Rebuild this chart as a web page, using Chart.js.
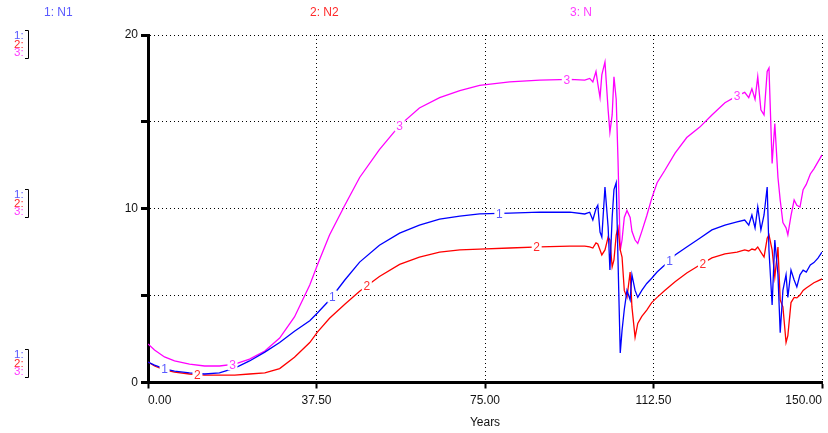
<!DOCTYPE html>
<html>
<head>
<meta charset="utf-8">
<script src="https://cdn.jsdelivr.net/npm/chart.js@4"></script>
<style>
  html, body { margin: 0; padding: 0; background: #fff; }
  #wrap { width: 828px; height: 433px; }
</style>
</head>
<body>
<div id="wrap"><canvas id="grafico" width="828" height="433"></canvas></div>
<script>
// tiempo (años) y series
const years = [0,1.45,3.67,5.9,9.24,12.6,15.9,19.3,22.6,26.0,29.3,32.6,36.0,37.7,40.4,43.8,47.1,51.5,56.0,60.4,64.9,69.4,73.8,80.5,87.2,93.9,97.2,
  98.3,99.0,99.7,100.1,100.6,101.0,101.7,102.4,102.8,103.3,103.7,104.2,104.6,105.1,105.5,106.0,106.6,107.3,107.7,108.4,109.0,109.9,111.0,112.1,113.3,
  115.0,117.3,119.9,122.8,125.5,128.4,131.1,132.8,
  133.7,134.4,135.1,135.7,136.4,137.1,137.8,138.2,138.9,139.5,140.2,140.7,141.3,142.0,142.4,143.1,143.8,144.4,145.1,145.8,146.5,147.4,148.2,149.1,150];

const n1 = [1.18,1.0,0.78,0.66,0.55,0.49,0.55,0.83,1.24,1.75,2.3,2.95,3.55,4.0,4.75,5.9,6.93,7.9,8.6,9.06,9.4,9.58,9.7,9.75,9.8,9.8,9.7,
  9.8,9.35,10.0,10.2,8.66,8.37,11.25,8.95,6.47,9.5,11.1,11.5,7.05,1.7,3.0,4.2,5.3,4.75,6.2,5.3,4.9,5.3,5.7,6.0,6.36,
  6.76,7.34,7.8,8.3,8.78,9.06,9.24,9.35,
  9.06,9.64,8.9,10.1,8.78,9.64,11.25,7.6,4.46,8.2,6.2,2.86,5.3,6.2,4.9,6.47,5.9,5.5,6.2,6.47,6.36,6.76,6.9,7.16,7.5];

const n2 = [1.18,0.95,0.72,0.6,0.49,0.43,0.43,0.43,0.49,0.55,0.8,1.45,2.3,2.9,3.7,4.5,5.25,6.1,6.8,7.22,7.5,7.63,7.68,7.74,7.8,7.85,7.85,
  7.8,7.74,8.03,7.97,7.63,7.34,7.63,8.37,8.2,6.65,7.05,8.49,8.9,7.63,7.22,5.3,4.9,6.36,4.35,2.6,3.4,3.8,4.17,4.6,4.9,
  5.3,5.8,6.3,6.76,7.17,7.4,7.5,7.63,
  7.57,7.68,7.63,7.8,7.5,7.22,8.3,8.5,7.63,6.07,7.8,4.75,4.35,2.3,2.7,4.6,4.9,4.87,5.03,5.3,5.44,5.6,5.74,5.85,5.96];

const n = [2.22,1.87,1.47,1.24,1.06,0.95,0.95,1.06,1.35,1.81,2.56,3.77,5.61,6.76,8.49,10.2,11.8,13.4,14.8,15.8,16.4,16.8,17.1,17.3,17.4,17.45,17.4,
  17.5,17.3,17.9,17.2,16.4,17.7,18.45,15.7,14.4,15.4,17.6,16.3,12.8,7.6,8.2,9.5,9.9,9.5,8.7,8.2,8.0,8.7,9.6,10.6,11.5,
  12.2,13.2,14.1,14.7,15.4,16.1,16.5,16.7,
  16.4,16.9,16.3,17.6,15.7,15.4,17.9,18.1,12.6,14.9,11.8,10.5,9.2,8.9,8.5,9.6,10.5,10.2,10.1,11.1,11.4,12.0,12.3,12.7,13.1];

const seriesNames = ['N1', 'N2', 'N'];
const xTicks = [0, 37.5, 75, 112.5, 150];
// años donde van los números sobre cada curva
const marks1 = [3.7, 41.0, 78.2, 116.1];
const marks2 = [11.0, 48.7, 86.5, 123.5];
const marks3 = [18.8, 56.0, 93.2, 131.1];

const FONT = "'Liberation Sans', Arial, sans-serif";
const colores = ['#0000ff', '#ff0000', '#ff00ff'];
const coloresTexto = ['#5a5aff', '#ff2a2a', '#ff3cff'];

const toPts = (arr) => arr.map((v, i) => ({ x: years[i], y: v }));

const interp = (arr, x) => {
    for (let i = 1; i < years.length; i++) {
        if (x <= years[i]) {
            const t = (x - years[i - 1]) / (years[i] - years[i - 1]);
            return arr[i - 1] + t * (arr[i] - arr[i - 1]);
        }
    }
    return arr[arr.length - 1];
};

const decoracion = {
    id: 'decoracion',
    afterDatasetsDraw(chart) {
        const { ctx, scales: { x, y } } = chart;
        const grupos = [[n1, marks1, '1'], [n2, marks2, '2'], [n, marks3, '3']];
        ctx.save();
        ctx.font = '12px ' + FONT;
        ctx.textAlign = 'center';
        ctx.textBaseline = 'middle';
        grupos.forEach(([serie, marcas, txt], k) => {
            marcas.forEach(m => {
                const px = x.getPixelForValue(m);
                const py = y.getPixelForValue(interp(serie, m));
                ctx.fillStyle = '#fff';
                ctx.fillRect(px - 5, py - 6, 10, 12);
                ctx.fillStyle = coloresTexto[k];
                ctx.fillText(txt, px, py + 1);
            });
        });
        ctx.restore();
    },
    afterDraw(chart) {
        const { ctx } = chart;
        ctx.save();
        ctx.font = '12px ' + FONT;
        ctx.textBaseline = 'middle';
        // leyenda de arriba
        const leyenda = [[44, '1: N1'], [310, '2: N2'], [570, '3: N']];
        leyenda.forEach(([lx, t], k) => {
            ctx.fillStyle = coloresTexto[k];
            ctx.fillText(t, lx, 13);
        });
        // escalas a la izquierda
        ctx.font = '11.5px ' + FONT;
        const tops = [36, 195, 355];
        tops.forEach(t0 => {
            ['1:', '2:', '3:'].forEach((t, k) => {
                ctx.fillStyle = coloresTexto[k];
                ctx.fillText(t, 14, t0 + k * 8.5);
            });
            ctx.strokeStyle = '#000';
            ctx.lineWidth = 1;
            ctx.beginPath();
            ctx.moveTo(25, t0 - 5.5);
            ctx.lineTo(28.5, t0 - 5.5);
            ctx.lineTo(28.5, t0 + 22.5);
            ctx.lineTo(25, t0 + 22.5);
            ctx.stroke();
        });
        ctx.restore();
    }
};

const ctx = document.getElementById('grafico');

new Chart(ctx, {
    type: 'line',
    data: {
        datasets: [n1, n2, n].map((serie, i) => ({
            label: seriesNames[i],
            data: toPts(serie),
            borderColor: colores[i],
            borderWidth: 1.3,
            pointRadius: 0,
            tension: 0,
            fill: false
        }))
    },
    options: {
        responsive: false,
        animation: false,
        events: [],
        layout: { padding: { top: 35, right: 6, left: 0, bottom: 0 } },
        plugins: { legend: { display: false }, tooltip: { enabled: false } },
        scales: {
            x: {
                type: 'linear',
                min: 0,
                max: 150,
                afterBuildTicks: (s) => { s.ticks = xTicks.map(v => ({ value: v })); },
                afterFit: (s) => { s.height = 50.5; },
                ticks: {
                    align: 'inner',
                    maxRotation: 0,
                    padding: 5,
                    color: '#111',
                    font: { family: FONT, size: 12 },
                    callback: (v) => Number(v).toFixed(2)
                },
                grid: { color: '#000', lineWidth: 1, tickLength: 6, tickWidth: 2, tickColor: '#000' },
                border: { display: true, color: '#000', width: 3, dash: [1, 3] },
                title: { display: true, text: 'Years', color: '#111', font: { family: FONT, size: 12 }, padding: { top: 0, bottom: 3 } }
            },
            y: {
                min: 0,
                max: 20,
                afterFit: (s) => { s.width = 148; },
                ticks: {
                    stepSize: 5,
                    padding: 3,
                    color: '#111',
                    font: { family: FONT, size: 12 },
                    callback: (v) => (v % 10 === 0 ? v : '')
                },
                grid: { color: '#000', lineWidth: 1, tickLength: 7, tickWidth: 3, tickColor: '#000' },
                border: { display: true, color: '#000', width: 3, dash: [1, 3] }
            }
        }
    },
    plugins: [decoracion]
});
</script>
</body>
</html>
